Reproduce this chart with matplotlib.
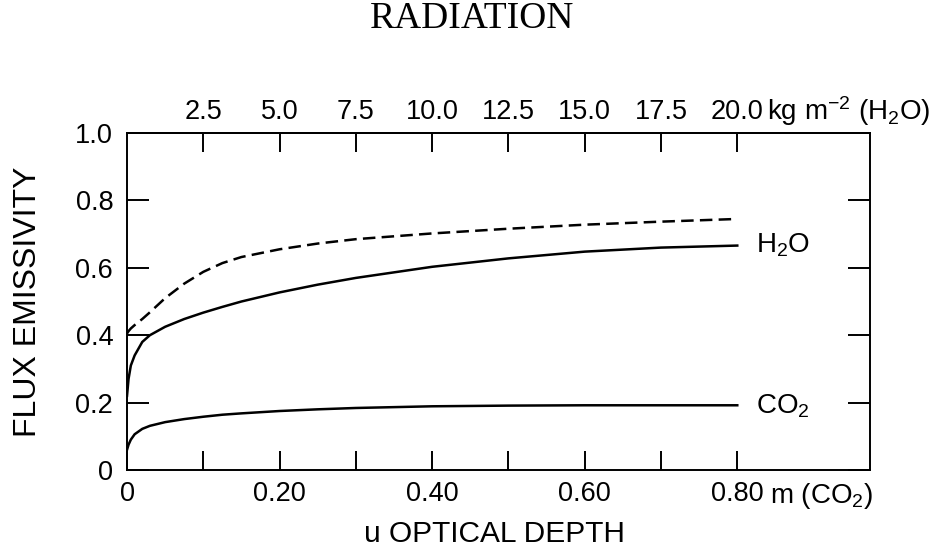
import matplotlib
matplotlib.use("Agg")
import matplotlib.pyplot as plt
from matplotlib.ticker import FixedLocator
from matplotlib.transforms import blended_transform_factory

plt.rcParams['font.family'] = ['Liberation Sans', 'DejaVu Sans']
plt.rcParams['mathtext.fontset'] = 'custom'
plt.rcParams['mathtext.rm'] = 'Liberation Sans'
plt.rcParams['mathtext.it'] = 'Liberation Sans:italic'

# optical depth u in m (CO2); top axis is kg m-2 (H2O), 2.5 kg m-2 per 0.1 m
u_m = [0, 0.002, 0.005, 0.01, 0.02, 0.03, 0.05, 0.075, 0.1, 0.125, 0.15, 0.2,
       0.25, 0.3, 0.4, 0.5, 0.6, 0.7, 0.8]
h2o = [0.22, 0.27, 0.31, 0.34, 0.38, 0.40, 0.425, 0.448, 0.467, 0.484, 0.50, 0.527,
       0.55, 0.57, 0.603, 0.628, 0.648, 0.66, 0.666]
h2o_dashed = [0.405, 0.412, 0.42, 0.43, 0.448, 0.468, 0.51, 0.553, 0.588, 0.614, 0.632,
              0.655, 0.672, 0.685, 0.702, 0.716, 0.728, 0.737, 0.745]
co2 = [0.06, 0.075, 0.09, 0.106, 0.122, 0.131, 0.142, 0.151, 0.158, 0.164, 0.168,
       0.175, 0.18, 0.184, 0.189, 0.191, 0.192, 0.192, 0.192]

bottom_ticks = [0, 0.2, 0.4, 0.6, 0.8]
bottom_labels = ["0", "0.20", "0.40", "0.60", "0.80"]
bottom_minor = [0.1, 0.3, 0.5, 0.7]
top_ticks = [2.5, 5.0, 7.5, 10.0, 12.5, 15.0, 17.5, 20.0]
y_ticks = [0, 0.2, 0.4, 0.6, 0.8, 1.0]
y_labels = ["0", "0.2", "0.4", "0.6", "0.8", "1.0"]

fig = plt.figure(figsize=(9.5, 5.52), dpi=100)
ax = fig.add_axes([0.1337, 0.1486, 0.7821, 0.6104])

ax.plot(u_m, h2o, color='black', lw=1.8)
ax.plot(u_m, h2o_dashed, color='black', lw=1.8, linestyle=(0, (5, 2.5)))
ax.plot(u_m, co2, color='black', lw=1.8)

ax.set_xlim(0, 0.974)
ax.set_ylim(0, 1.0)

for s in ax.spines.values():
    s.set_linewidth(1.4)

ax.xaxis.set_major_locator(FixedLocator(bottom_ticks))
ax.set_xticklabels(bottom_labels)
ax.xaxis.set_minor_locator(FixedLocator(bottom_minor))
ax.set_yticks(y_ticks)
ax.set_yticklabels(y_labels)

ax.tick_params(axis='x', which='both', direction='in', length=14, width=1.4,
               labelsize=19.5, pad=8)
ax.tick_params(axis='y', which='both', direction='in', length=16, width=1.4,
               labelsize=19.5, pad=10, right=True)

top = ax.secondary_xaxis('top', functions=(lambda x: x * 25, lambda x: x / 25))
top.set_xticks(top_ticks)
top.set_xticklabels(["%.1f" % t for t in top_ticks])
top.tick_params(direction='in', length=14, width=1.4, labelsize=19.5, pad=6)
top.spines['top'].set_linewidth(1.4)

xdata_yaxes = blended_transform_factory(ax.transData, ax.transAxes)
ax.text(0.839, 1.0386, "kg m$^{-2}$ (H$_2$O)", transform=xdata_yaxes,
        fontsize=20, ha='left', va='baseline')
ax.text(0.843, -0.098, "m (CO$_2$)", transform=xdata_yaxes,
        fontsize=20, ha='left', va='baseline')

ax.text(0.824, 0.644, "H$_2$O", fontsize=20, ha='left', va='baseline')
ax.text(0.824, 0.169, "CO$_2$", fontsize=20, ha='left', va='baseline')

ax.set_xlabel("u OPTICAL DEPTH", fontsize=21.5, va='center')
ax.xaxis.set_label_coords(0.495, -0.19)
ax.set_ylabel("FLUX EMISSIVITY", fontsize=23, va='center')
ax.yaxis.set_label_coords(-0.133, 0.5)

fig.text(472 / 950, 1 - 19 / 552, "RADIATION", family='Liberation Serif',
         fontsize=27, ha='center', va='center')

fig.savefig("out.png", dpi=100)
